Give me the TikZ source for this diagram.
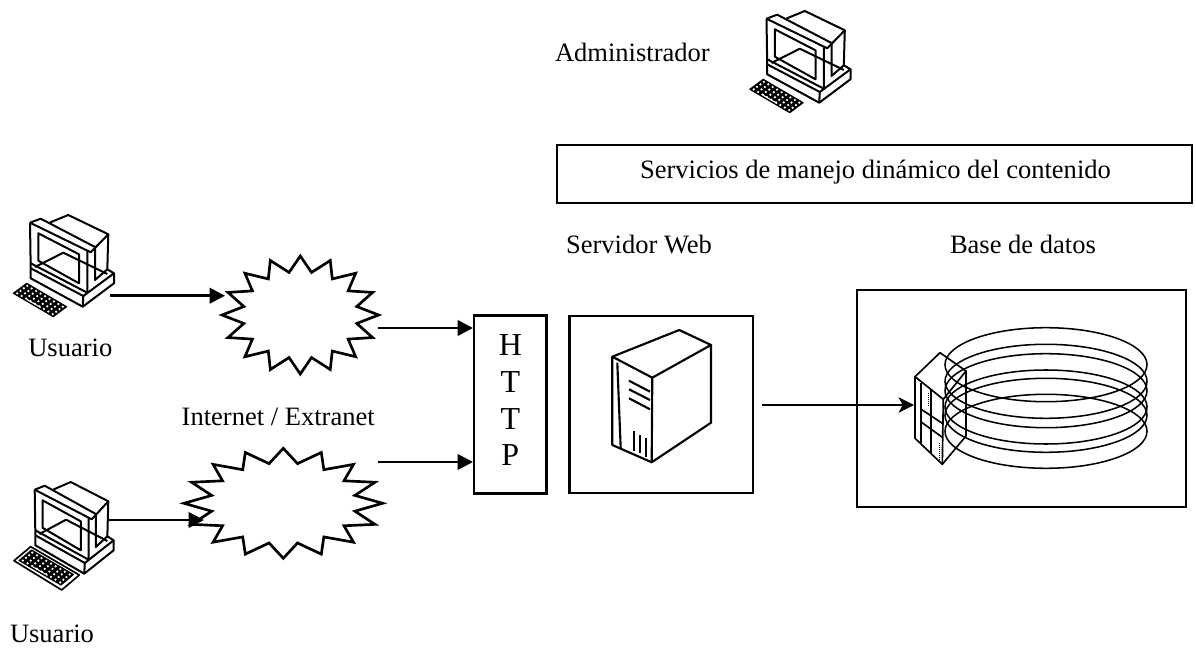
\documentclass[tikz,border=0pt]{standalone}
\usepackage{fontspec}
\setmainfont{Liberation Serif}
\usetikzlibrary{arrows.meta,shapes.geometric}
\tikzset{
  lbl/.style={font=\fontsize{19.9}{24}\selectfont,anchor=base west,inner sep=0pt,outer sep=0pt},
  boxed/.style={draw=black,line width=1.6pt,inner sep=0pt,outer sep=0pt,anchor=north west},
  boxedh/.style={boxed,line width=2pt},
  burst/.style={star,draw=black,line width=2pt,star points=16,star point ratio=1.36,inner sep=0pt,outer sep=0pt,transform shape},
  conn/.style={line width=2pt,-{Triangle[length=11.5pt,width=11.5pt]}},
  connb/.style={line width=1.7pt,-{Stealth[length=11.5pt,width=11.5pt,inset=3pt]}},
  pc/.style={line width=1.5pt,line join=round},
  ring/.style={line width=1.15pt},
  fine/.style={line width=1.25pt,line join=round},
  srv/.style={line width=1.6pt,line join=round},
}
\newcommand{\pcbody}{%
  \draw[pc] (30,222.7)--(40.7,218.7)--(95,247);
  \draw[pc] (30,222.7)--(90.7,252.3)--(108.3,234.3)--(68.3,215)--(50,222.5);
  \draw[pc] (30,222.7)--(30.7,268.3);
  \draw[pc] (30.7,263.3)--(87.3,292.7)--(87.3,251);
  \draw[pc] (95,247)--(95,280)--(107.3,269.3)--(108.3,234.3);
  \draw[pc] (38.3,233.3)--(79,254.3)--(79,283.3)--(38.3,260.7)--cycle;
  \draw[pc] (35,267)--(63.3,252.7)--(107.3,274);
  \draw[pc] (30.7,268.3)--(83.3,296)--(114,273.3)--(107.3,269.3);
  \draw[pc] (30.7,268.3)--(30.7,278.3)--(82.7,306.7)--(114,283.3)--(114,273.3);
  \draw[pc] (83.3,296)--(82.7,306.7);
}
\newcommand{\kbd}[6]{% Lx Ly ux uy vx vy
  \fill[black,draw=black,line width=.8pt,line join=round] (#1,#2)--++(#3,#4)--++(#5,#6)--++(-#3,-#4)--cycle;
  \foreach \i in {0,...,8}{\foreach \j in {0,...,3}{
    \fill[white] ({#1+(\i+.5)/9*#3+(\j+.5)/4*#5},{#2+(\i+.5)/9*#4+(\j+.5)/4*#6}) circle (1.25);
  }}
  \draw[white,line width=.8pt] ({#1+.3*#3+.1*#5},{#2+.3*#4+.1*#6})--({#1+.65*#3+.1*#5},{#2+.65*#4+.1*#6});
}
\begin{document}
\begin{tikzpicture}[x=0.75pt,y=-0.75pt]
\useasboundingbox (0,0) rectangle (1196,648);

% computers
\pcbody
\kbd{13.3}{293.3}{40}{23.4}{13.4}{-10}
\begin{scope}[shift={(736.5,-204)}]
  \pcbody
  \kbd{13.3}{293.3}{40}{23.4}{13.4}{-10}
\end{scope}
\begin{scope}[shift={(6.5,267)},xscale=.94]
  \pcbody
\end{scope}
\draw[fine,fill=white] (14,560.7)--(30.7,546.7)--(79.3,575)--(61.7,590)--cycle;
\kbd{19}{560.5}{42}{24.5}{12.5}{-10.5}

% labels
\node[lbl] (adm) at (555,61.7) {Administrador};
\node[lbl] (usr1) at (28.3,356.7) {Usuario};
\node[lbl] (usr2) at (10,642) {Usuario};
\node[lbl] (inet) at (181.7,425.7) {Internet / Extranet};
\node[lbl] (web) at (566,254) {Servidor Web};
\node[lbl] (bd) at (950,253.3) {Base de datos};

% boxes
\node[boxed,minimum width=634.4*.75pt,minimum height=58*.75pt] (svc) at (557.3,145.3) {};
\node[lbl] (svct) at (640,178.3) {Servicios de manejo dinámico del contenido};
\node[boxedh,minimum width=72.7*.75pt,minimum height=177.6*.75pt,align=center,text depth=6pt,font=\fontsize{24}{27.5}\selectfont] (http) at (474,315.7) {H\\T\\T\\P};
\node[boxedh,minimum width=183.5*.75pt,minimum height=177*.75pt] (srvbox) at (569.5,316) {};
\node[boxed,minimum width=328.4*.75pt,minimum height=217*.75pt] (dbbox) at (857.3,290) {};

% clouds
\node[burst,minimum size=118*.75pt,xscale=1.327] (net1) at (300.3,315) {};
\node[burst,minimum size=110*.75pt,xscale=1.805] (net2) at (283.3,503.3) {};

% server
\draw[srv] (612.3,356.7)--(679.3,330)--(711,345)--(652.3,377.7)--cycle;
\draw[srv] (711,345)--(711,422.7)--(651.7,462.3)--(612.3,445)--(612.3,356.7);
\draw[srv] (652.3,377.7)--(651.7,462.3);
\draw[srv] (617.3,362.7)--(620.7,448.3);
\draw[srv] (629,380.7)--(650,391.7) (629,389.3)--(650,400) (629,398.3)--(650,409.3);
\draw[srv,line width=2pt] (634,431)--(634,450.7) (640,435)--(640,453.3) (646,438.3)--(646,456.7);

% database
\foreach \c in {364.7,381.3,390.7,407,415.3,431.3}{
  \draw[ring] (1046,\c) ellipse (101 and 37);
}
\draw[fine] (915,376.7)--(940,352.7)--(966,371)--(943.3,399.3)--cycle;
\draw[fine] (915,376.7)--(915,438.3)--(942.3,464.3)--(966,436)--(966,371);
\draw[fine] (943.3,399.3)--(942.3,464.3);
\draw[fine] (921,382.7)--(921,443.3) (931,390)--(931,453.3);
\draw[fine] (920.7,409)--(942.3,423.3) (920.7,421.7)--(942.3,437.3);
\draw[line width=.5pt,densely dotted] (928.3,393.3)--(928.3,406.7) (939,443.3)--(939,460);

% connector ends
\coordinate (pc1out) at (110,295.7);
\coordinate (net1in) at (225,295.7);
\coordinate (pc2out) at (109,520);
\coordinate (net2in) at (204,520);
\coordinate (net1out) at (378,328);
\coordinate (http1) at (473,328);
\coordinate (net2out) at (378,462);
\coordinate (http2) at (473,462);
\coordinate (srvout) at (762,405);
\coordinate (dbin) at (914,405);
\draw[conn] (pc1out)--(net1in);
\draw[conn] (pc2out)--(net2in);
\draw[conn] (net1out)--(http1);
\draw[conn] (net2out)--(http2);
\draw[connb] (srvout)--(dbin);
\end{tikzpicture}
\end{document}
